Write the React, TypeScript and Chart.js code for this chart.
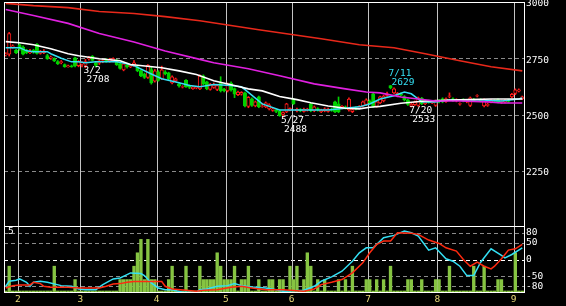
import React, { useEffect, useRef } from 'react';
import { Chart, registerables } from 'chart.js';

Chart.register(...registerables);

const MONO = '"DejaVu Sans Mono", "Liberation Mono", monospace';

// trading-day index of the first session of each month (Feb..Sep)
const monthStartDays = [4, 22, 44, 64, 83, 105, 125, 147];
const monthLabels = ['2', '3', '4', '5', '6', '7', '8', '9'];

const priceTicks = [2250, 2500, 2750, 3000];
const priceGrid = [2250, 2500, 2750];
const rciTicks = [-80, -50, 0, 50, 80];

// daily candles (150 sessions, late Jan .. early Sep)
const opens = [
  2766, 2768, 2798, 2785, 2810, 2800, 2782, 2775, 2785, 2812,
  2772, 2775, 2762, 2750, 2748, 2735, 2730, 2722, 2712, 2716,
  2752, 2717, 2725, 2718, 2748, 2758, 2730, 2728, 2735, 2742,
  2736, 2738, 2740, 2725, 2698, 2720, 2712, 2718, 2712, 2695,
  2680, 2665, 2700, 2648, 2690, 2658, 2690, 2685, 2640, 2650,
  2636, 2622, 2652, 2628, 2615, 2618, 2614, 2672, 2645, 2612,
  2620, 2612, 2640, 2612, 2605, 2640, 2615, 2588, 2590, 2596,
  2536, 2570, 2538, 2578, 2536, 2534, 2525, 2518, 2520, 2516,
  2500, 2512, 2520, 2569, 2516, 2522, 2514, 2520, 2547, 2516,
  2526, 2512, 2516, 2514, 2524, 2556, 2547, 2530, 2534, 2520,
  2513, 2530, 2530, 2538, 2545, 2560, 2592, 2536, 2552, 2560,
  2585, 2629, 2596, 2582, 2592, 2580, 2565, 2538, 2544, 2540,
  2572, 2548, 2560, 2552, 2540, 2562, 2570, 2558, 2580, 2570,
  2560, 2546, 2566, 2556, 2540, 2568, 2582, 2566, 2538, 2540,
  2556, 2562, 2566, 2554, 2556, 2564, 2578, 2594, 2604, 2570,
];
const highs = [
  2775, 2865, 2810, 2790, 2815, 2805, 2790, 2790, 2790, 2815,
  2785, 2788, 2768, 2760, 2752, 2740, 2740, 2725, 2720, 2720,
  2755, 2740, 2735, 2745, 2758, 2762, 2735, 2742, 2745, 2748,
  2750, 2752, 2745, 2728, 2730, 2724, 2722, 2740, 2716, 2698,
  2684, 2722, 2712, 2700, 2695, 2715, 2695, 2688, 2672, 2662,
  2640, 2628, 2655, 2632, 2626, 2625, 2676, 2676, 2648, 2638,
  2640, 2632, 2668, 2616, 2640, 2645, 2618, 2604, 2602, 2600,
  2580, 2574, 2560, 2582, 2550, 2556, 2548, 2530, 2524, 2520,
  2512, 2550, 2530, 2572, 2528, 2526, 2528, 2528, 2550, 2538,
  2530, 2524, 2530, 2528, 2528, 2560, 2578, 2540, 2538, 2574,
  2525, 2534, 2540, 2560, 2570, 2565, 2596, 2560, 2582, 2586,
  2600, 2629, 2618, 2598, 2596, 2584, 2568, 2550, 2560, 2578,
  2576, 2560, 2564, 2562, 2564, 2566, 2574, 2574, 2596, 2574,
  2570, 2552, 2570, 2566, 2578, 2572, 2588, 2570, 2570, 2550,
  2566, 2566, 2570, 2564, 2566, 2568, 2594, 2614, 2614, 2582,
];
const lows = [
  2760, 2760, 2795, 2770, 2785, 2765, 2770, 2770, 2772, 2768,
  2768, 2770, 2745, 2745, 2735, 2722, 2725, 2710, 2710, 2710,
  2712, 2712, 2712, 2708, 2742, 2738, 2712, 2722, 2730, 2732,
  2732, 2734, 2718, 2702, 2694, 2706, 2708, 2714, 2690, 2668,
  2660, 2660, 2635, 2644, 2648, 2655, 2676, 2654, 2636, 2646,
  2622, 2618, 2620, 2615, 2612, 2614, 2610, 2632, 2610, 2608,
  2616, 2606, 2600, 2600, 2600, 2604, 2575, 2584, 2586, 2534,
  2530, 2536, 2534, 2530, 2532, 2530, 2520, 2514, 2508, 2492,
  2488, 2508, 2516, 2544, 2512, 2512, 2510, 2515, 2512, 2512,
  2515, 2508, 2512, 2510, 2514, 2508, 2508, 2525, 2524, 2515,
  2508, 2520, 2526, 2534, 2540, 2548, 2532, 2532, 2548, 2556,
  2580, 2614, 2592, 2578, 2582, 2560, 2540, 2533, 2540, 2536,
  2544, 2544, 2550, 2548, 2536, 2552, 2552, 2554, 2574, 2558,
  2556, 2542, 2556, 2552, 2535, 2558, 2578, 2556, 2534, 2536,
  2552, 2554, 2552, 2550, 2552, 2554, 2574, 2588, 2600, 2566,
];
const closes = [
  2769, 2860, 2805, 2775, 2790, 2768, 2775, 2780, 2778, 2772,
  2780, 2782, 2748, 2755, 2738, 2726, 2735, 2712, 2716, 2712,
  2717, 2735, 2730, 2735, 2752, 2740, 2718, 2738, 2740, 2738,
  2745, 2748, 2722, 2705, 2725, 2712, 2718, 2730, 2695, 2672,
  2665, 2718, 2640, 2694, 2652, 2699, 2682, 2658, 2667, 2658,
  2627, 2624, 2624, 2620, 2622, 2622, 2672, 2636, 2614, 2634,
  2632, 2628, 2605, 2606, 2636, 2609, 2590, 2600, 2598, 2538,
  2576, 2540, 2556, 2534, 2539, 2552, 2543, 2525, 2514, 2495,
  2508, 2547, 2526, 2548, 2524, 2516, 2524, 2524, 2516, 2534,
  2520, 2520, 2525, 2524, 2518, 2512, 2512, 2536, 2528, 2569,
  2522, 2524, 2536, 2556, 2565, 2552, 2536, 2556, 2578, 2582,
  2592, 2618, 2614, 2594, 2586, 2566, 2545, 2546, 2556, 2574,
  2548, 2556, 2554, 2558, 2560, 2556, 2556, 2570, 2583, 2562,
  2566, 2548, 2560, 2562, 2574, 2562, 2584, 2560, 2566, 2546,
  2562, 2558, 2556, 2560, 2562, 2558, 2590, 2610, 2610, 2578,
];

// volume (scale 0..5)
const volumes = [
  0.15, 2, 0.15, 0.15, 0.15, 0.15, 0.15, 0.15, 0.15, 0.15,
  0.15, 0.15, 0.15, 0.15, 2, 0.15, 0.15, 0.15, 0.15, 0.15,
  1, 0.15, 0.15, 0.15, 0.15, 0.15, 0.15, 0.15, 0.15, 0.15,
  0.15, 0.15, 0.15, 1, 1, 1, 1, 2, 3, 4,
  1, 4, 1, 1, 0.15, 0.15, 0.15, 1, 2, 0.15,
  0.15, 0.15, 2, 0.15, 0.15, 0.15, 2, 1, 1, 1,
  1, 3, 2, 1, 1, 1, 2, 0.15, 1, 1,
  2, 0.15, 0.15, 1, 0.15, 0.15, 1, 1, 0.15, 1,
  1, 0.15, 2, 1, 2, 0.15, 1, 3, 2, 0.15,
  1, 0.15, 1, 0.15, 0.15, 0.15, 1, 0.15, 1, 0.15,
  2, 0.15, 0.15, 0.15, 1, 1, 0.15, 1, 0.15, 1,
  0.15, 2, 0.15, 0.15, 0.15, 0.15, 1, 1, 0.15, 0.15,
  1, 0.15, 0.15, 0.15, 1, 1, 0.15, 0.15, 2, 0.15,
  0.15, 0.15, 0.15, 0.15, 0.15, 2, 0.15, 0.15, 2, 0.15,
  0.15, 0.15, 1, 1, 0.15, 0.15, 0.15, 3, 0.15, 0.15,
];

// moving averages (sampled)
const maShortDays = [0, 4, 6, 8, 12, 13, 16, 19, 21, 23, 26, 32, 35, 37, 42, 45, 50, 53, 56, 60, 65, 68, 70, 74, 79, 82, 93, 102, 105, 108, 112, 115, 117, 119, 120, 124, 128, 136, 143, 148, 149];
const maShortVals = [2797, 2797, 2783, 2779, 2779, 2770, 2750, 2734, 2734, 2730, 2734, 2734, 2725, 2717, 2680, 2659, 2641, 2629, 2623, 2633, 2629, 2623, 2598, 2547, 2520, 2520, 2520, 2534, 2547, 2569, 2583, 2600, 2592, 2569, 2556, 2556, 2565, 2565, 2560, 2569, 2574];
const maMidDays = [0, 4, 8, 13, 18, 21, 27, 33, 36, 45, 50, 55, 60, 65, 70, 74, 79, 84, 88, 93, 98, 102, 105, 108, 114, 121, 131, 140, 149];
const maMidVals = [2824, 2819, 2810, 2792, 2770, 2761, 2748, 2739, 2722, 2708, 2694, 2678, 2650, 2632, 2614, 2605, 2580, 2566, 2552, 2538, 2528, 2525, 2532, 2536, 2550, 2560, 2565, 2569, 2569];
const maLongDays = [0, 8, 18, 27, 37, 46, 56, 60, 70, 79, 89, 98, 104, 108, 114, 119, 124, 131, 139, 143, 149];
const maLongVals = [2967, 2940, 2905, 2860, 2822, 2782, 2745, 2730, 2703, 2672, 2636, 2614, 2600, 2596, 2578, 2569, 2560, 2560, 2556, 2551, 2551];
const ma200Days = [0, 8, 18, 27, 37, 46, 56, 73, 91, 102, 112, 121, 131, 140, 149];
const ma200Vals = [2994, 2984, 2975, 2958, 2949, 2935, 2917, 2877, 2837, 2810, 2797, 2770, 2739, 2712, 2694];

// RCI (short / long)
const rciShortDays = [0, 1, 3, 4, 6, 7, 8, 10, 12, 16, 19, 21, 23, 26, 28, 31, 33, 35, 36, 39, 40, 42, 44, 46, 48, 51, 55, 56, 58, 61, 64, 66, 68, 71, 75, 78, 80, 86, 89, 91, 94, 97, 100, 102, 104, 106, 109, 112, 115, 117, 119, 122, 124, 127, 129, 131, 133, 135, 137, 140, 143, 144, 146, 149];
const rciShortVals = [-80, -65, -62, -58, -68, -80, -68, -65, -68, -78, -80, -88, -90, -90, -75, -58, -55, -45, -40, -42, -48, -70, -85, -90, -90, -98, -98, -90, -88, -80, -78, -72, -78, -82, -85, -90, -95, -92, -80, -65, -52, -35, -5, 20, 35, 35, 65, 72, 85, 80, 70, 28, 35, 2, -5, -20, -48, -48, -8, 32, 12, 5, 15, 35];
const rciLongDays = [0, 2, 4, 7, 8, 10, 11, 13, 18, 21, 27, 29, 31, 33, 35, 37, 45, 46, 48, 52, 55, 57, 61, 65, 68, 71, 75, 80, 86, 89, 91, 94, 97, 100, 103, 105, 107, 109, 111, 113, 117, 119, 122, 125, 127, 130, 132, 134, 136, 138, 140, 141, 143, 145, 147, 149];
const rciLongVals = [-85, -78, -76, -76, -68, -72, -80, -83, -83, -85, -85, -80, -73, -72, -68, -66, -66, -80, -88, -92, -95, -92, -90, -83, -80, -85, -90, -90, -95, -88, -75, -68, -60, -40, -10, 20, 45, 55, 55, 80, 78, 75, 58, 48, 35, 25, 0, -20, -8, -20, -28, -20, 2, 28, 32, 45];

// high / low annotations
const noteDays = [23, 80, 111, 117];
const notePrices = [2708, 2488, 2629, 2533];
const noteDates = ['3/2', '5/27', '7/11', '7/20'];
const noteBelow = [true, true, false, true];

const CYAN = '#34e0f4';
const UP = '#ff1a1a';
const DOWN = '#00d200';

function pts(days: number[], vals: number[]) {
  return days.map((d, k) => ({ x: d, y: vals[k] }));
}

function hline(ctx: CanvasRenderingContext2D, x0: number, x1: number, y: number) {
  ctx.beginPath();
  ctx.moveTo(x0, y);
  ctx.lineTo(x1, y);
  ctx.stroke();
}
function vline(ctx: CanvasRenderingContext2D, x: number, y0: number, y1: number) {
  ctx.beginPath();
  ctx.moveTo(x, y0);
  ctx.lineTo(x, y1);
  ctx.stroke();
}
function frame(ctx: CanvasRenderingContext2D, a: any) {
  const l = Math.floor(a.left) + 0.5;
  const t = Math.floor(a.top) + 0.5;
  const r = Math.round(a.right) + 0.5;
  const b = Math.round(a.bottom) - 0.5;
  ctx.save();
  ctx.strokeStyle = '#ffffff';
  ctx.lineWidth = 1;
  ctx.setLineDash([]);
  ctx.strokeRect(l, t, r - l, b - t);
  ctx.restore();
}

const topDecor = {
  id: 'topDecor',
  beforeDatasetsDraw(chart: any) {
    const { ctx, chartArea: a } = chart;
    const xs = chart.scales.x;
    const ys = chart.scales.y;
    ctx.save();
    ctx.lineWidth = 1;
    ctx.strokeStyle = '#8a8a8a';
    ctx.setLineDash([4, 3]);
    for (const v of priceGrid) hline(ctx, a.left, a.right, Math.round(ys.getPixelForValue(v)) + 0.5);
    ctx.setLineDash([]);
    ctx.strokeStyle = '#c4c4c4';
    for (const d of monthStartDays) vline(ctx, Math.round(xs.getPixelForValue(d - 0.5)) + 0.5, a.top, a.bottom);
    ctx.restore();
  },
  afterDraw(chart: any) {
    const { ctx, chartArea: a } = chart;
    frame(ctx, a);
    const xs = chart.scales.x;
    const ys = chart.scales.y;
    ctx.save();
    ctx.font = `9.5px ${MONO}`;
    ctx.textAlign = 'left';
    ctx.textBaseline = 'middle';
    noteDays.forEach((d, k) => {
      const cx = xs.getPixelForValue(d) - 2;
      const py = ys.getPixelForValue(notePrices[k]);
      ctx.fillStyle = noteBelow[k] ? '#ffffff' : CYAN;
      if (noteBelow[k]) {
        ctx.fillText(noteDates[k], cx, py + 3);
        ctx.fillText(String(notePrices[k]), cx + 3, py + 12);
      } else {
        ctx.fillText(noteDates[k], cx, py - 12);
        ctx.fillText(String(notePrices[k]), cx + 3, py - 3);
      }
    });
    ctx.restore();
  },
};

const botDecor = {
  id: 'botDecor',
  beforeDatasetsDraw(chart: any) {
    const { ctx, chartArea: a } = chart;
    const xs = chart.scales.x;
    const ys = chart.scales.y;
    ctx.save();
    ctx.lineWidth = 1;
    ctx.setLineDash([4, 3]);
    for (const v of rciTicks) {
      ctx.strokeStyle = v === 0 ? '#ffffff' : '#8a8a8a';
      hline(ctx, a.left, a.right, Math.round(ys.getPixelForValue(v)) + 0.5);
    }
    ctx.setLineDash([]);
    ctx.strokeStyle = '#c4c4c4';
    for (const d of monthStartDays) vline(ctx, Math.round(xs.getPixelForValue(d - 0.5)) + 0.5, a.top, a.bottom);
    ctx.restore();
  },
  afterDraw(chart: any) {
    const { ctx, chartArea: a } = chart;
    frame(ctx, a);
    ctx.save();
    ctx.font = `9.5px ${MONO}`;
    ctx.fillStyle = '#ffffff';
    ctx.textAlign = 'left';
    ctx.textBaseline = 'top';
    ctx.fillText('5', a.left + 4, a.top + 1);
    ctx.restore();
  },
};

export default function App() {
  const topRef = useRef<HTMLCanvasElement>(null);
  const botRef = useRef<HTMLCanvasElement>(null);

  useEffect(() => {
    const idx = opens.map((_, i) => i);
    const up = idx.map((i) => closes[i] >= opens[i]);
    const lineDs = (data: any, color: string, width: number, order: number) => ({
      type: 'line' as const,
      data,
      borderColor: color,
      borderWidth: width,
      pointRadius: 0,
      fill: false,
      tension: 0,
      order,
    });

    const top = new Chart(topRef.current!, {
      type: 'bar',
      data: {
        datasets: [
          lineDs(pts(ma200Days, ma200Vals), '#e8281a', 1.6, -4) as any,
          lineDs(pts(maLongDays, maLongVals), '#e020e0', 1.6, -3) as any,
          lineDs(pts(maMidDays, maMidVals), '#ffffff', 1.6, -2) as any,
          lineDs(pts(maShortDays, maShortVals), CYAN, 1.5, -1) as any,
          {
            type: 'bar',
            data: idx.map((i) => ({ x: i, y: [lows[i], highs[i]] })) as any,
            backgroundColor: idx.map((i) => (up[i] ? UP : DOWN)),
            barThickness: 1,
            grouped: false,
            order: 2,
          },
          {
            type: 'bar',
            data: idx.map((i) => ({ x: i, y: [opens[i], closes[i]] })) as any,
            backgroundColor: idx.map((i) => (up[i] ? '#000000' : DOWN)),
            borderColor: idx.map((i) => (up[i] ? UP : DOWN)),
            borderWidth: 1,
            borderSkipped: false,
            barThickness: 3.4,
            grouped: false,
            order: 1,
          },
        ],
      },
      options: {
        responsive: false,
        animation: false,
        events: [],
        layout: { padding: { left: 4, top: 2, right: 0, bottom: 1 } },
        plugins: { legend: { display: false }, tooltip: { enabled: false } },
        scales: {
          x: { type: 'linear', display: false, min: -0.5, max: 149.5, offset: false },
          y: {
            type: 'linear',
            position: 'right',
            min: 2000,
            max: 3000,
            grid: { display: false, drawTicks: false },
            border: { display: false },
            afterBuildTicks: (s: any) => {
              s.ticks = priceTicks.map((v) => ({ value: v }));
            },
            afterFit: (s: any) => {
              s.width = 42;
              s.paddingTop = 0;
              s.paddingBottom = 0;
            },
            ticks: {
              color: '#ffffff',
              font: { family: MONO, size: 9.5 },
              padding: 2,
              labelOffset: 2,
              autoSkip: false,
              callback: (v: any) => String(v),
            },
          },
        },
      },
      plugins: [topDecor],
    } as any);

    const bot = new Chart(botRef.current!, {
      type: 'bar',
      data: {
        datasets: [
          {
            type: 'bar',
            data: idx.map((i) => ({ x: i, y: volumes[i] })) as any,
            backgroundColor: '#86c442',
            barThickness: 2.7,
            grouped: false,
            yAxisID: 'yv',
            order: 3,
          },
          { ...(lineDs(pts(rciShortDays, rciShortVals), CYAN, 1.5, 1) as any), yAxisID: 'y' },
          { ...(lineDs(pts(rciLongDays, rciLongVals), '#ff2a10', 1.5, 0) as any), yAxisID: 'y' },
        ],
      },
      options: {
        responsive: false,
        animation: false,
        events: [],
        layout: { padding: { left: 4, top: 6, right: 0, bottom: 0 } },
        plugins: { legend: { display: false }, tooltip: { enabled: false } },
        scales: {
          x: {
            type: 'linear',
            min: -0.5,
            max: 149.5,
            offset: false,
            grid: { display: false, drawTicks: false },
            border: { display: false },
            afterBuildTicks: (s: any) => {
              s.ticks = monthStartDays.map((d) => ({ value: d - 0.5 }));
            },
            afterFit: (s: any) => {
              s.height = 13;
              s.paddingLeft = 0;
              s.paddingRight = 0;
            },
            ticks: {
              color: '#ecdc7c',
              font: { family: MONO, size: 9.5 },
              padding: 1,
              autoSkip: false,
              maxRotation: 0,
              callback: (_v: any, k: number) => monthLabels[k],
            },
          },
          y: {
            type: 'linear',
            position: 'right',
            min: -100,
            max: 100,
            grid: { display: false, drawTicks: false },
            border: { display: false },
            afterBuildTicks: (s: any) => {
              s.ticks = rciTicks.map((v) => ({ value: v }));
            },
            afterFit: (s: any) => {
              s.width = 42;
              s.paddingTop = 0;
              s.paddingBottom = 0;
            },
            ticks: {
              color: '#ffffff',
              font: { family: MONO, size: 9.5 },
              padding: 2,
              crossAlign: 'near',
              autoSkip: false,
              callback: (v: any) => String(v),
            },
          },
          yv: { type: 'linear', display: false, min: 0, max: 5 },
        },
      },
      plugins: [botDecor],
    } as any);

    return () => {
      top.destroy();
      bot.destroy();
    };
  }, []);

  return (
    <div style={{ position: 'fixed', left: 0, top: 0, width: 566, height: 306, background: '#000', overflow: 'hidden' }}>
      <canvas ref={topRef} width={566} height={228} style={{ position: 'absolute', left: 0, top: 0, width: 566, height: 228 }} />
      <canvas ref={botRef} width={566} height={86} style={{ position: 'absolute', left: 0, top: 220, width: 566, height: 86 }} />
    </div>
  );
}
